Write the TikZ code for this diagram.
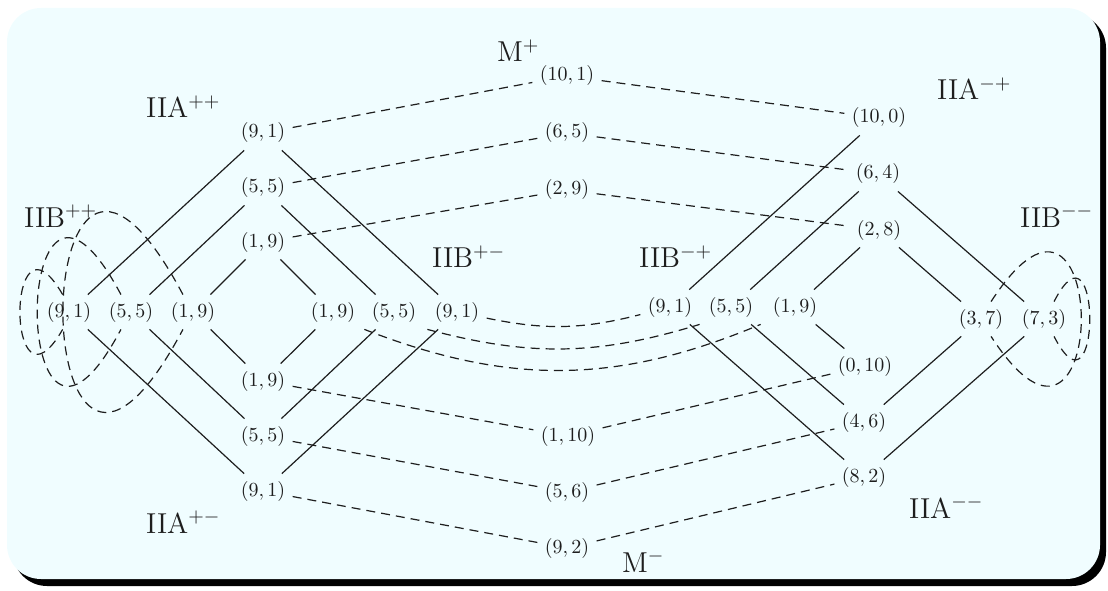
\documentclass[tikz,border=0pt]{standalone}
\usepackage{amsmath,amssymb}
\usepackage{tikz}
\usetikzlibrary{calc}
\usepackage{xcolor}
\definecolor{panel}{RGB}{240,253,255}
\definecolor{ink}{RGB}{30,30,30}

\tikzset{
  pt/.style={inner sep=3.5pt,text=ink},
  lbl/.style={anchor=base west,font=\Large,text=ink},
  gauge/.style={line width=0.6pt,ink},
  dual/.style={line width=0.6pt,ink,dash pattern=on 4.5pt off 3pt},
}

\begin{document}
\begin{tikzpicture}[x=0.5pt,y=0.5pt]
    \useasboundingbox (0,0) rectangle (1108,590);
    % panel with shadow
    \fill[black,rounded corners=17pt] (13,4) rectangle (1106,576);
    \fill[panel,rounded corners=17pt] (7,11) rectangle (1100,582);

    % IIA++ / IIA+- diamond
    \node[pt] (a91) at (263,457) {$(9,1)$};
    \node[pt] (a55) at (263,402) {$(5,5)$};
    \node[pt] (a19) at (263,348) {$(1,9)$};
    \node[pt] (c19) at (263,209) {$(1,9)$};
    \node[pt] (c55) at (263,154) {$(5,5)$};
    \node[pt] (c91) at (263,99) {$(9,1)$};
    % IIB++ row
    \node[pt] (l91) at (69,278) {$(9,1)$};
    \node[pt] (l55) at (131,278) {$(5,5)$};
    \node[pt] (l19) at (193,278) {$(1,9)$};
    % IIB+- row
    \node[pt] (m19) at (333,278) {$(1,9)$};
    \node[pt] (m55) at (394,278) {$(5,5)$};
    \node[pt] (m91) at (457,278) {$(9,1)$};

    % M+ / M- column
    \node[pt] (p101) at (567,514) {$(10,1)$};
    \node[pt] (p65) at (567,457) {$(6,5)$};
    \node[pt] (p29) at (567,400) {$(2,9)$};
    \node[pt] (q110) at (568,154) {$(1,10)$};
    \node[pt] (q56) at (567,98) {$(5,6)$};
    \node[pt] (q92) at (567,42) {$(9,2)$};

    % IIA-+ / IIA-- column
    \node[pt] (s100) at (879,472) {$(10,0)$};
    \node[pt] (s64) at (878,416) {$(6,4)$};
    \node[pt] (s28) at (879,360) {$(2,8)$};
    \node[pt] (t010) at (865,224) {$(0,10)$};
    \node[pt] (t46) at (864,168) {$(4,6)$};
    \node[pt] (t82) at (864,113) {$(8,2)$};
    % IIB-+ row
    \node[pt] (r91) at (670,283) {$(9,1)$};
    \node[pt] (r55) at (731,283) {$(5,5)$};
    \node[pt] (r19) at (795,283) {$(1,9)$};
    % IIB-- row
    \node[pt] (r37) at (981,271) {$(3,7)$};
    \node[pt] (r73) at (1044,271) {$(7,3)$};

    % labels
    \node[lbl] (mp) at (490,528) {M$^{+}$};
    \node[lbl] (mm) at (615,18) {M$^{-}$};
    \node[lbl] (app) at (139,472) {IIA$^{++}$};
    \node[lbl] (apm) at (139,57) {IIA$^{+-}$};
    \node[lbl] (bpp) at (17,363) {IIB$^{++}$};
    \node[lbl] (bpm) at (425,322) {IIB$^{+-}$};
    \node[lbl] (bmp) at (632,322) {IIB$^{-+}$};
    \node[lbl] (amp) at (930,490) {IIA$^{-+}$};
    \node[lbl] (bmm) at (1013,363) {IIB$^{--}$};
    \node[lbl] (amm) at (902,72) {IIA$^{--}$};

    % left diamond
    \draw[gauge] (a91) -- (l91) (a91) -- (m91);
    \draw[gauge] (a55) -- (l55) (a55) -- (m55);
    \draw[gauge] (a19) -- (l19) (a19) -- (m19);
    \draw[gauge] (c19) -- (l19) (c19) -- (m19);
    \draw[gauge] (c55) -- (l55) (c55) -- (m55);
    \draw[gauge] (c91) -- (l91) (c91) -- (m91);

    % right diamond
    \draw[gauge] (r91) -- (s100) (r91) -- (t82);
    \draw[gauge] (r55) -- (s64) (r55) -- (t46);
    \draw[gauge] (r19) -- (s28) (r19) -- (t010);
    \draw[gauge] (s64) -- (r73) (t82) -- (r73);
    \draw[gauge] (s28) -- (r37) (t46) -- (r37);

    % dashed links through M+ and M-
    \draw[dual] (a91) -- (p101) -- (s100);
    \draw[dual] (a55) -- (p65) -- (s64);
    \draw[dual] (a19) -- (p29) -- (s28);
    \draw[dual] (c19) -- (q110) -- (t010);
    \draw[dual] (c55) -- (q56) -- (t46);
    \draw[dual] (c91) -- (q92) -- (t82);

    % IIB+- to IIB-+
    \draw[dual] (m91) to[bend right=13] (r91);
    \draw[dual] (m91.south west) to[bend right=16] (r91.south east);
    \draw[dual] (m55.south west) to[bend right=22] (r55.south east);

    % self loops
    \draw[dual] (l19.120) .. controls +(118:341) and +(242:341) .. (l19.240);
    \draw[dual] (l55.120) .. controls +(118:238) and +(242:238) .. (l55.240);
    \draw[dual] (l91.110) .. controls +(120:114) and +(240:114) .. (l91.250);
    \draw[dual] (r37.60) .. controls +(57:221) and +(-57:221) .. (r37.-60);
    \draw[dual] (r73.60) .. controls +(63:105) and +(-63:105) .. (r73.-60);
\end{tikzpicture}
\end{document}
